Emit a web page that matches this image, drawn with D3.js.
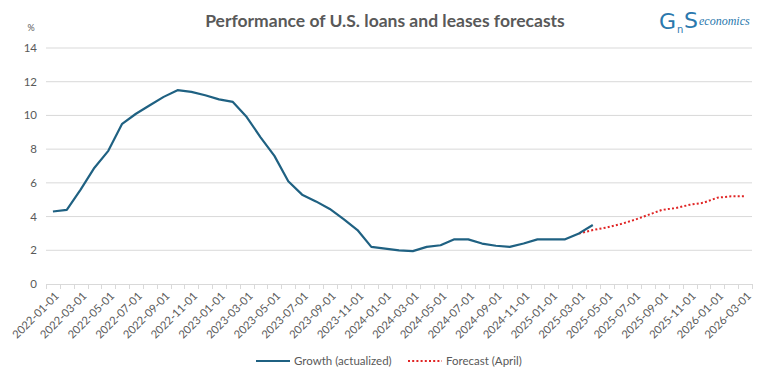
<!DOCTYPE html>
<html><head><meta charset="utf-8">
<script src="https://cdn.jsdelivr.net/npm/d3@7"></script>
<style>body{margin:0;background:#fff}svg{display:block}</style>
</head><body>
<svg id="c" width="770" height="381"></svg>
<script>
// Monthly categories 2022-01 .. 2026-03
const months = [];
for (let y = 2022; y <= 2026; y++) for (let m = 1; m <= 12; m++) {
  if (y === 2026 && m > 3) break;
  months.push(`${y}-${String(m).padStart(2,"0")}-01`);
}
const growth = [4.3,4.4,5.6,6.9,7.9,9.5,10.1,10.6,11.1,11.5,11.4,11.2,10.95,10.8,9.9,8.7,7.6,6.1,5.3,4.9,4.45,3.85,3.2,2.2,2.1,2.0,1.95,2.2,2.3,2.65,2.65,2.4,2.27,2.2,2.4,2.65,2.65,2.65,3.0,3.5];
const forecastStart = 38;
const forecast = [3.0,3.2,3.35,3.55,3.8,4.1,4.4,4.5,4.7,4.82,5.12,5.2,5.2];
const yTicks = [0,2,4,6,8,10,12,14];

const svg = d3.select("#c");
const L = 46, R = 752, T = 48, B = 284;
const x = d3.scaleBand().domain(months).range([L, R]);
const y = d3.scaleLinear().domain([0,14]).range([B, T]);
const cx = d => x(d) + x.bandwidth()/2;
const grey = "#595959";

// gridlines
svg.append("g").selectAll("line").data(yTicks.filter(t=>t>0)).join("line")
  .attr("x1", L).attr("x2", R).attr("y1", d=>y(d)).attr("y2", d=>y(d))
  .attr("stroke", "#d9d9d9").attr("stroke-width", 1);

// y labels
svg.append("g").selectAll("text").data(yTicks).join("text")
  .attr("x", 37).attr("y", d=>y(d)).attr("dy", "0.35em").attr("text-anchor","end")
  .attr("font-family","Lato, 'Open Sans', sans-serif").attr("font-size", 11.5).attr("fill", grey)
  .text(d=>d);
svg.append("text").attr("x", 31).attr("y", 31).attr("text-anchor","middle")
  .attr("font-family","Lato, sans-serif").attr("font-size", 9).attr("fill", grey).text("%");

// x axis
svg.append("line").attr("x1", L).attr("x2", R).attr("y1", B+0.5).attr("y2", B+0.5).attr("stroke","#d9d9d9");
const bounds = months.map(m => x(m)).concat([R]);
svg.append("g").selectAll("line").data(bounds).join("line")
  .attr("x1", d=>Math.round(d)+0.5).attr("x2", d=>Math.round(d)+0.5).attr("y1", B).attr("y2", B+5)
  .attr("stroke","#d9d9d9");
svg.append("g").selectAll("text").data(months.filter((m,i)=>i%2===0)).join("text")
  .attr("transform", d=>`translate(${cx(d)+4},${B+10}) rotate(-45)`)
  .attr("text-anchor","end").attr("dy","0.35em")
  .attr("font-family","Lato, 'Open Sans', sans-serif").attr("font-size", 11.2).attr("fill", grey)
  .text(d=>d);

// lines
const line = d3.line().x(d=>cx(d[0])).y(d=>y(d[1]));
svg.append("path").datum(forecast.map((v,i)=>[months[forecastStart+i], v]))
  .attr("d", line).attr("fill","none").attr("stroke","#e02424").attr("stroke-width",2)
  .attr("stroke-dasharray","2,2.2");
svg.append("path").datum(growth.map((v,i)=>[months[i], v]))
  .attr("d", line).attr("fill","none").attr("stroke","#1f6182").attr("stroke-width",2.2)
  .attr("stroke-linejoin","round");

// title
svg.append("text").attr("x", 385).attr("y", 27).attr("text-anchor","middle")
  .attr("font-family","Lato, sans-serif").attr("font-weight","bold").attr("font-size", 17.5).attr("fill", grey)
  .text("Performance of U.S. loans and leases forecasts");

// logo
const lg = svg.append("g").attr("fill","#2a78ad");
lg.append("text").attr("x", 659).attr("y", 29).attr("font-family","'DejaVu Sans', sans-serif").attr("font-size", 22).text("G");
lg.append("text").attr("x", 677).attr("y", 33).attr("font-family","'DejaVu Sans', sans-serif").attr("font-size", 10).text("n");
lg.append("text").attr("x", 684).attr("y", 28).attr("font-family","'DejaVu Sans', sans-serif").attr("font-size", 22).text("S");
lg.append("text").attr("x", 699).attr("y", 25).attr("font-family","'Liberation Serif', serif").attr("font-style","italic").attr("font-size", 12).text("economics");

// legend
const lgY = 361;
svg.append("line").attr("x1",256).attr("x2",290).attr("y1",lgY).attr("y2",lgY).attr("stroke","#1f6182").attr("stroke-width",2.2);
svg.append("text").attr("x",294).attr("y",lgY).attr("dy","0.35em").attr("font-family","Lato, sans-serif").attr("font-size",11.5).attr("fill",grey).text("Growth (actualized)");
svg.append("line").attr("x1",408).attr("x2",442).attr("y1",lgY).attr("y2",lgY).attr("stroke","#e02424").attr("stroke-width",2).attr("stroke-dasharray","2,2.2");
svg.append("text").attr("x",446).attr("y",lgY).attr("dy","0.35em").attr("font-family","Lato, sans-serif").attr("font-size",11.5).attr("fill",grey).text("Forecast (April)");
</script>
</body></html>
